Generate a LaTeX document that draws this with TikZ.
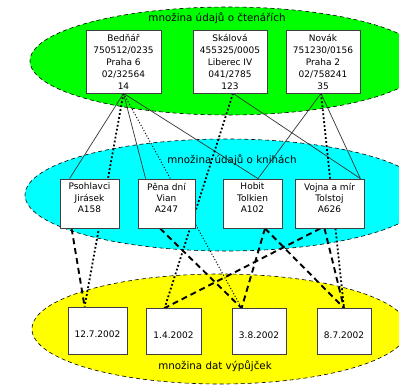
\documentclass[tikz,border=0pt]{standalone}
\usepackage{fontspec}
\setmainfont{DejaVu Sans}
\definecolor{setgreen}{RGB}{0,255,0}
\definecolor{setcyan}{RGB}{0,255,255}
\definecolor{setyellow}{RGB}{255,255,0}
\pgfdeclarelayer{sets}
\pgfdeclarelayer{links}
\pgfsetlayers{sets,links,main}
\begin{document}
\begin{tikzpicture}[x=1pt,y=-1pt,
  setborder/.style={draw=black, line width=0.6pt, dash pattern=on 4pt off 3pt},
  box/.style={draw=black!75, line width=0.8pt, fill=white, inner sep=0pt, align=center},
  reader/.style={box, minimum height=63pt, font=\fontsize{9}{12}\selectfont},
  book/.style={box, minimum height=49pt, font=\fontsize{9}{11.3}\selectfont},
  loan/.style={box, minimum height=46pt, font=\fontsize{9}{11}\selectfont,
    text height=14.6pt, text depth=0pt},
  settitle/.style={font=\fontsize{10.3}{12}\selectfont, inner sep=0pt},
  has/.style={draw=black!80, line width=0.7pt},
  borrower/.style={draw=black, line width=1.8pt, dash pattern=on 1.8pt off 2.2pt},
  thinborrower/.style={draw=black, line width=1pt, dash pattern=on 1pt off 2pt},
  loanof/.style={draw=black, line width=1.9pt, dash pattern=on 6pt off 4pt},
]
\useasboundingbox (0,0) rectangle (399,386);

% readers
\node[reader, minimum width=75pt] (r1) at (123.5,61.5)
  {Bedňář\\750512/0235\\Praha 6\\02/32564\\14};
\node[reader, minimum width=74pt] (r2) at (230,61.5)
  {Skálová\\455325/0005\\Liberec IV\\041/2785\\123};
\node[reader, minimum width=74pt] (r3) at (323,61.5)
  {Novák\\751230/0156\\Praha 2\\02/758241\\35};

% books
\node[book, minimum width=59pt] (b1) at (89.5,203.5) {Psohlavci\\Jirásek\\A158\\\mbox{}};
\node[book, minimum width=57pt] (b2) at (166.5,203.5) {Pěna dní\\Vian\\A247\\\mbox{}};
\node[book, minimum width=59pt] (b3) at (252.5,203.5) {Hobit\\Tolkien\\A102\\\mbox{}};
\node[book, minimum width=69pt] (b4) at (329.5,203.5) {Vojna a mír\\Tolstoj\\A626\\\mbox{}};

% loans
\node[loan, minimum width=59pt, minimum height=47pt] (l1) at (97.5,330.5) {12.7.2002};
\node[loan, minimum width=55pt] (l2) at (173.5,331.5) {1.4.2002};
\node[loan, minimum width=54pt] (l3) at (259,331.5) {3.8.2002};
\node[loan, minimum width=54pt] (l4) at (344,331.5) {8.7.2002};

% the three sets
\begin{pgfonlayer}{sets}
  \begin{scope}
    \clip (0,0) rectangle (399,386);
    \draw[setborder, fill=setgreen] (228,61) ellipse [x radius=198pt, y radius=54pt];
    \draw[setborder, fill=setcyan] (226,195) ellipse [x radius=201pt, y radius=56pt];
    \draw[setborder, fill=setyellow] (220,329) ellipse [x radius=188pt, y radius=55pt];
  \end{scope}
  \node[settitle] (t1) at (217,18) {množina údajů o čtenářích};
  \node[settitle] (t2) at (232,160) {množina údajů o knihách};
  \node[settitle] (t3) at (215,366) {množina dat výpůjček};
\end{pgfonlayer}

\begin{pgfonlayer}{links}
  % reader -- book
  \draw[has] (r1.south) -- ([xshift=10pt]b1.north west);
  \draw[has] (r1.south) -- ([xshift=8pt]b2.north west);
  \draw[has] (r1.south) -- ([xshift=5.5pt]b3.north);
  \draw[has] ([xshift=3pt]r2.south) -- ([xshift=-4pt]b4.north east);
  \draw[has] ([xshift=-2pt]r3.south) -- ([xshift=5.5pt]b3.north);
  \draw[has] ([xshift=-2pt]r3.south) -- ([xshift=-4pt]b4.north east);
  % reader -- loan
  \draw[borrower] (r1.south) -- ([xshift=17pt]l1.north west);
  \draw[thinborrower] (r1.south) -- ([xshift=10pt]l3.north west);
  \draw[borrower] ([xshift=3pt]r2.south) -- ([xshift=19pt]l2.north west);
  \draw[borrower] ([xshift=-2pt]r3.south) -- (l4.north);
  % book -- loan
  \draw[loanof] ([xshift=12pt]b1.south west) -- ([xshift=17pt]l1.north west);
  \draw[loanof] ([xshift=-6.5pt]b2.south) -- ([xshift=10pt]l3.north west);
  \draw[loanof] ([xshift=12.5pt]b3.south) -- ([xshift=10pt]l3.north west);
  \draw[loanof] ([xshift=12.5pt]b3.south) -- (l4.north);
  \draw[loanof] ([xshift=-9pt]b4.south) -- ([xshift=19pt]l2.north west);
  \draw[loanof] ([xshift=-5pt]b4.south) -- (l4.north);
\end{pgfonlayer}
\end{tikzpicture}
\end{document}
